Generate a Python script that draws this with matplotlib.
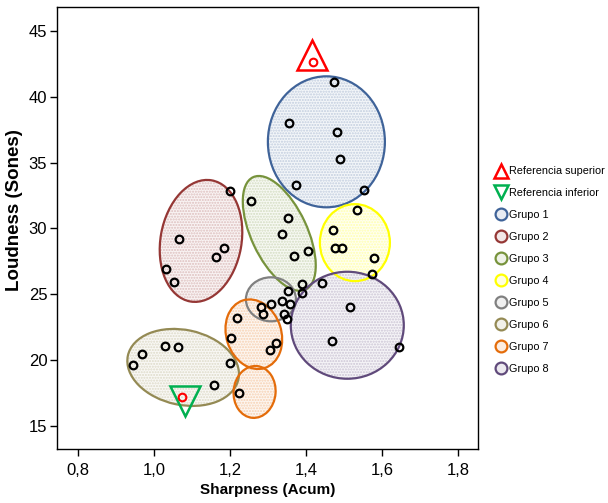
import matplotlib
matplotlib.use("Agg")
import matplotlib.pyplot as plt
from matplotlib.patches import Ellipse
from matplotlib.lines import Line2D
from matplotlib.transforms import ScaledTranslation
import numpy as np

# sample values per group (Sharpness in acum, Loudness in sones)
g1_x = [1.474, 1.356, 1.481, 1.491, 1.373, 1.553]
g1_y = [41.14, 38.03, 37.30, 35.28, 33.26, 32.93]
g2_x = [1.199, 1.067, 1.185, 1.164, 1.033, 1.053]
g2_y = [32.86, 29.22, 28.51, 27.86, 26.95, 25.93]
g3_x = [1.256, 1.353, 1.336, 1.368, 1.406, 1.390, 1.352, 1.390]
g3_y = [32.05, 30.78, 29.55, 27.90, 28.31, 25.78, 25.25, 25.13]
g4_x = [1.535, 1.472, 1.477, 1.494, 1.579, 1.575]
g4_y = [31.36, 29.90, 28.51, 28.51, 27.78, 26.54]
g5_x = [1.281, 1.286, 1.307, 1.338, 1.358, 1.342, 1.351]
g5_y = [24.07, 23.54, 24.30, 24.49, 24.24, 23.54, 23.11]
g6_x = [0.944, 0.968, 1.028, 1.064, 1.199, 1.159]
g6_y = [19.60, 20.45, 21.06, 21.01, 19.77, 18.13]
g7_x = [1.220, 1.204, 1.322, 1.306, 1.223]
g7_y = [23.23, 21.72, 21.29, 20.81, 17.52]
g8_x = [1.443, 1.517, 1.470, 1.645]
g8_y = [25.83, 24.04, 21.42, 20.98]

# reference sounds and their triangle markers
ref_x = [1.418, 1.073]
ref_y = [42.60, 17.19]
ref_mark_x = [1.416, 1.082]
ref_mark_y = [43.18, 16.93]
ref_labels = ["Referencia superior", "Referencia inferior"]

group_labels = ["Grupo 1", "Grupo 2", "Grupo 3", "Grupo 4",
                "Grupo 5", "Grupo 6", "Grupo 7", "Grupo 8"]
group_colors = ["#3F6399", "#953735", "#77933C", "#FFFF00",
                "#808080", "#948A54", "#E46C0A", "#604A7B"]

# outline of each group: centre (data), width/height in px, angle, group index
regions = [
    (1.454, 36.57, 117, 131, 0, 0),
    (1.124, 29.05, 81, 123, -10, 1),
    (1.330, 29.62, 56, 124, 25, 2),
    (1.529, 28.92, 70, 77, 0, 3),
    (1.308, 24.62, 50, 44, 0, 4),
    (1.077, 19.45, 113, 75, -12, 5),
    (1.263, 21.97, 55, 71, 18, 6),
    (1.265, 17.59, 42, 52, -5, 6),
    (1.509, 22.65, 113, 107, 0, 7),
]

plt.rcParams["font.family"] = "Liberation Sans"


def tint(c, amount):
    rgb = np.array(matplotlib.colors.to_rgb(c))
    return tuple(1 - amount * (1 - rgb))


fig = plt.figure(figsize=(6.08, 5.03), dpi=100)
ax = fig.add_axes([57 / 608, 1 - 449 / 503, 421 / 608, 442 / 503])
ax.set_xlim(0.745, 1.853)
ax.set_ylim(13.26, 46.8)

for cx, cy, w, h, ang, gi in regions:
    col = group_colors[gi]
    tr = fig.dpi_scale_trans + ScaledTranslation(cx, cy, ax.transData)
    ax.add_patch(Ellipse((0, 0), w / 100, h / 100, angle=ang, transform=tr,
                         facecolor=tint(col, 0.06), edgecolor="none", zorder=1))
    ax.add_patch(Ellipse((0, 0), w / 100, h / 100, angle=ang, transform=tr,
                         fill=False, hatch="......", edgecolor=tint(col, 0.32),
                         linewidth=0, zorder=1))
    ax.add_patch(Ellipse((0, 0), w / 100, h / 100, angle=ang, transform=tr,
                         fill=False, edgecolor=col, linewidth=1.6, zorder=2))

all_x = g1_x + g2_x + g3_x + g4_x + g5_x + g6_x + g7_x + g8_x
all_y = g1_y + g2_y + g3_y + g4_y + g5_y + g6_y + g7_y + g8_y
ax.plot(all_x, all_y, "o", ms=5.5, mfc="none", mec="black", mew=1.6, zorder=4)

ax.plot(ref_x, ref_y, "o", ms=5.5, mfc="none", mec="#FF0000", mew=1.5, zorder=4)
ax.plot(ref_mark_x[0], ref_mark_y[0], "^", ms=21, mfc="none", mec="#FF0000", mew=1.8, zorder=3)
ax.plot(ref_mark_x[1], ref_mark_y[1], "v", ms=21, mfc="none", mec="#00B050", mew=1.8, zorder=3)

ax.set_xticks([0.8, 1.0, 1.2, 1.4, 1.6, 1.8])
ax.set_xticklabels(["0,8", "1,0", "1,2", "1,4", "1,6", "1,8"], fontsize=12)
ax.set_yticks([15, 20, 25, 30, 35, 40, 45])
ax.set_yticklabels(["15", "20", "25", "30", "35", "40", "45"], fontsize=12)
ax.tick_params(direction="out", length=5, width=1, colors="black", pad=2)
ax.tick_params(axis="x", pad=5)
for s in ax.spines.values():
    s.set_linewidth(1)
    s.set_color("black")

ax.set_xlabel("Sharpness (Acum)", fontsize=11, fontweight="bold")
ax.xaxis.set_label_coords(0.5, -0.078)
ax.set_ylabel("Loudness (Sones)", fontsize=13.5, fontweight="bold")
ax.yaxis.set_label_coords(-0.08, 0.541)

handles = [
    Line2D([], [], ls="none", marker="^", ms=9.5, mfc="none", mec="#FF0000", mew=1.8),
    Line2D([], [], ls="none", marker="v", ms=9.5, mfc="none", mec="#00B050", mew=1.8),
]
for col in group_colors:
    handles.append(Line2D([], [], ls="none", marker="o", ms=8.5, mfc=tint(col, 0.12),
                          mec=col, mew=1.6))
fig.legend(handles, ref_labels + group_labels, loc="upper left",
           bbox_to_anchor=(492 / 608, 1 - 162 / 503), frameon=False,
           prop={"size": 7.8}, handlelength=0.8,
           handletextpad=0.35, labelspacing=1.1, borderaxespad=0)

fig.savefig("out.png", dpi=100)
